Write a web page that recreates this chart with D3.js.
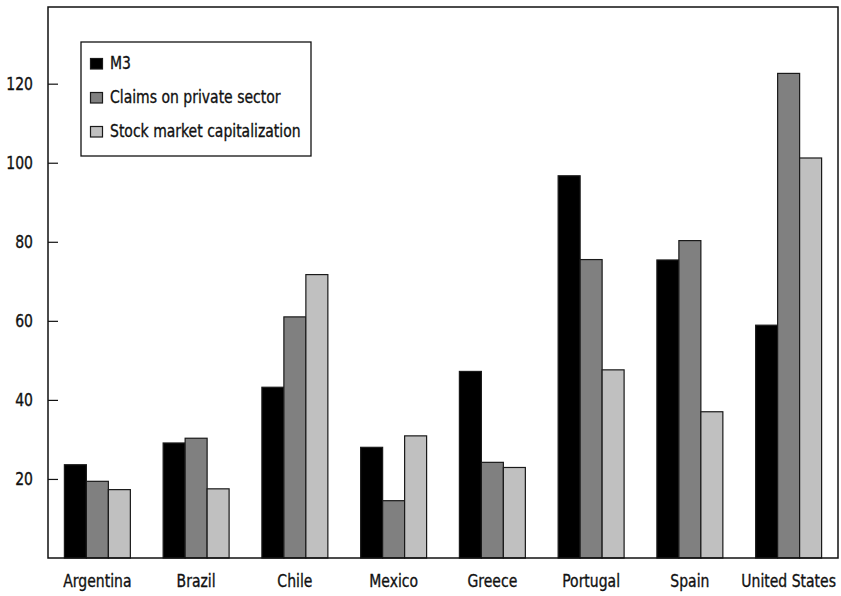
<!DOCTYPE html>
<html><head><meta charset="utf-8">
<script src="https://cdn.jsdelivr.net/npm/d3@7/dist/d3.min.js"></script>
<style>
body{margin:0;background:#fff;}
text{font-family:"DejaVu Sans Condensed","Liberation Sans Narrow",sans-serif;fill:#111;}
</style></head>
<body><svg id="c" width="841" height="596"></svg>
<script>
const categories = ["Argentina","Brazil","Chile","Mexico","Greece","Portugal","Spain","United States"];
const seriesNames = ["M3","Claims on private sector","Stock market capitalization"];
const m3 = [23.6, 29.1, 43.2, 28.0, 47.2, 96.7, 75.4, 58.9];
const claims = [19.4, 30.3, 61.0, 14.5, 24.2, 75.5, 80.3, 122.6];
const stock = [17.3, 17.5, 71.7, 30.9, 22.9, 47.6, 37.0, 101.2];
const yTicks = [20, 40, 60, 80, 100, 120];
const colors = ["#000000", "#808080", "#c0c0c0"];

const series = [m3, claims, stock];
const svg = d3.select("#c");
const L = 48, R = 838, T = 7, B = 558;
const FS = 18.5, SQUEEZE = 0.84;
const FF = '"DejaVu Sans Condensed","Liberation Sans Narrow",sans-serif';

const x = d3.scaleBand().domain(categories).range([L, R]).paddingInner(0.332).paddingOuter(0.166);
const xs = d3.scaleBand().domain(seriesNames).range([0, x.bandwidth()]);
const y = d3.scaleLinear().domain([0, 139.4]).range([B, T]);

// bars
const g = svg.append("g");
categories.forEach((c, i) => {
  seriesNames.forEach((s, j) => {
    const v = series[j][i];
    g.append("rect")
      .attr("x", x(c) + xs(s))
      .attr("y", y(v))
      .attr("width", xs.bandwidth())
      .attr("height", y(0) - y(v))
      .attr("fill", colors[j])
      .attr("stroke", "#1a1a1a")
      .attr("stroke-width", 1.2);
  });
});

// frame
svg.append("rect").attr("x", L).attr("y", T).attr("width", R - L).attr("height", B - T)
  .attr("fill", "none").attr("stroke", "#111").attr("stroke-width", 1.5);

// y axis
const yAxis = d3.axisRight(y).tickValues(yTicks).tickSize(10).tickPadding(0).tickFormat(d3.format("d"));
const ya = svg.append("g").attr("transform", `translate(${L},0)`).call(yAxis);
ya.select(".domain").remove();
ya.selectAll(".tick line").attr("stroke", "#111").attr("stroke-width", 1.2);
ya.selectAll(".tick text").attr("x", -15).attr("text-anchor", "end")
  .attr("font-size", FS).attr("fill", "#111").style("font-family", FF);

// x axis labels
const xAxis = d3.axisBottom(x).tickSize(0).tickPadding(16);
const xa = svg.append("g").attr("transform", `translate(0,${B})`).call(xAxis);
xa.select(".domain").remove();
xa.selectAll(".tick text").attr("font-size", FS).attr("fill", "#111").style("font-family", FF);

// legend
const lg = svg.append("g");
lg.append("rect").attr("x", 81).attr("y", 42).attr("width", 230).attr("height", 114)
  .attr("fill", "#fff").attr("stroke", "#111").attr("stroke-width", 1.3);
seriesNames.forEach((s, j) => {
  const cy = 63.5 + j * 34;
  lg.append("rect").attr("x", 90.5).attr("y", cy - 5).attr("width", 12).attr("height", 10.5)
    .attr("fill", colors[j]).attr("stroke", "#1a1a1a").attr("stroke-width", 1.2);
  lg.append("text").attr("x", 110).attr("y", cy + 5).attr("font-size", FS)
    .style("font-family", FF).text(s);
});

// condense all text horizontally and thicken slightly
svg.selectAll("text").each(function() {
  const w = this.getComputedTextLength();
  d3.select(this).attr("textLength", w * SQUEEZE).attr("lengthAdjust", "spacingAndGlyphs")
    .attr("stroke", "#111").attr("stroke-width", 0.35);
});
</script></body></html>
